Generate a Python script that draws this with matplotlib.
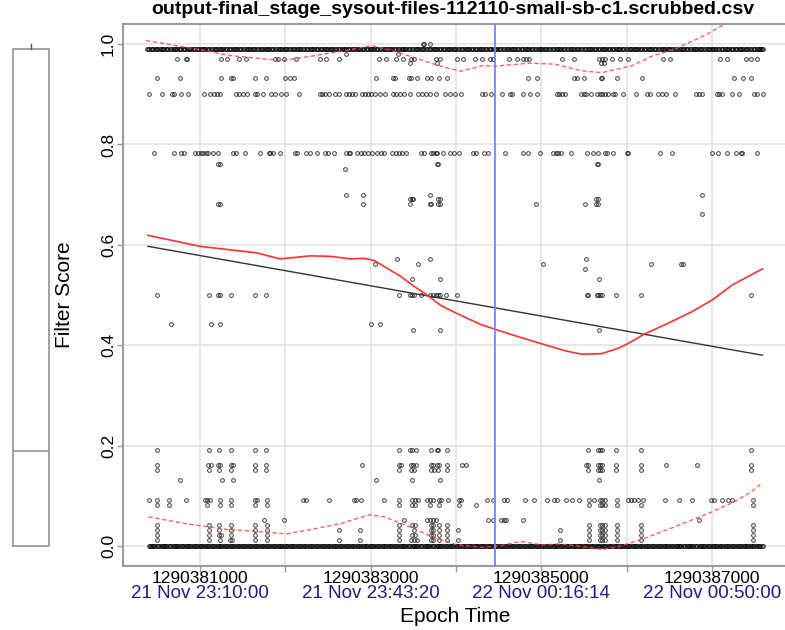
import matplotlib
matplotlib.use("Agg")
import matplotlib.pyplot as plt
import numpy as np

plt.rcParams['font.family'] = ['Liberation Sans', 'DejaVu Sans']

# ---------------- data ----------------
T0 = 1290380000  # epoch base; x values below are seconds after T0

title = "output-final_stage_sysout-files-112110-small-sb-c1.scrubbed.csv"
xtick_major = [1290381000, 1290383000, 1290385000, 1290387000]
xtick_labels = ["1290381000", "1290383000", "1290385000", "1290387000"]
date_labels = ["21 Nov 23:10:00", "21 Nov 23:43:20", "22 Nov 00:16:14", "22 Nov 00:50:00"]
xtick_minor = [1290382000, 1290384000, 1290386000]
ytick_vals = [0.0, 0.2, 0.4, 0.6, 0.8, 1.0]
ytick_labels = ["0.0", "0.2", "0.4", "0.6", "0.8", "1.0"]
marker_time = 1290384459

# score levels and the times (s after T0) of the points at each level
x_100 = [3610, 3620, 3700]
x_099a = [380, 410, 440, 470, 500, 530, 555, 585, 615, 650, 680, 705, 735, 765, 800, 830, 860, 885, 915, 945,
          980, 1010, 1040, 1065, 1095, 1125, 1160, 1190, 1220, 1245, 1275, 1305, 1340, 1370, 1400, 1425, 1455,
          1485, 1520, 1550, 1580, 1605, 1635, 1665, 1700, 1730, 1760, 1785, 1815, 1845, 1880, 1910, 1940, 1965,
          1995, 2025, 2060, 2090, 2120, 2145, 2175, 2205, 2240, 2270, 2300, 2325, 2355, 2385, 2420, 2450, 2480,
          2505, 2535, 2565, 2600, 2630, 2660, 2685, 2715, 2745, 2780, 2810, 2840, 2865, 2895, 2925, 2960, 2990,
          3020, 3045, 3075, 3105, 3140, 3170, 3200, 3225, 3255, 3285, 3320, 3350, 3380, 3405, 3435, 3465, 3500,
          3530, 3560, 3585, 3615, 3645, 3680, 3710, 3740, 3765, 3795, 3825, 3860, 3890, 3920, 3945, 3975, 4005,
          4040, 4070, 4100, 4125, 4155, 4185, 4220, 4250, 4280, 4305, 4335, 4365, 4400, 4430, 4460, 4485, 4515,
          4545, 4580, 4610, 4640, 4665, 4695, 4725, 4760, 4790, 4820, 4845, 4875, 4905, 4940, 4970, 5000, 5025,
          5055, 5085, 5120, 5150, 5180, 5205, 5235, 5265, 5300, 5330, 5360, 5385, 5415, 5445, 5480, 5510, 5540,
          5565, 5595, 5625, 5660, 5690, 5720, 5745, 5775, 5805, 5840, 5870, 5900, 5925, 5955, 5985, 6020, 6050,
          6080, 6105, 6135, 6165, 6200, 6230, 6260, 6285, 6315, 6345, 6380, 6410, 6440, 6465, 6495, 6525, 6560,
          6590, 6620, 6645, 6675, 6705, 6740, 6770, 6800, 6825, 6855, 6885, 6920, 6950, 6980, 7005, 7035, 7065,
          7100, 7130, 7160, 7185, 7215, 7245, 7280, 7310, 7340, 7365, 7395, 7425, 7460, 7490, 7520, 7545, 7575, 7600]
x_099b = [395, 425, 455, 485, 515, 545, 570, 600, 632, 665, 692, 720, 750, 782, 815, 845, 872, 900, 930, 962, 995,
          1025, 1052, 1080, 1110, 1142, 1175, 1205, 1232, 1260, 1290, 1322, 1355, 1385, 1412, 1440, 1470, 1502,
          1535, 1565, 1592, 1620, 1650, 1682, 1715, 1745, 1772, 1800, 1830, 1862, 1895, 1925, 1952, 1980, 2010,
          2042, 2075, 2105, 2132, 2160, 2190, 2222, 2255, 2285, 2312, 2340, 2370, 2402, 2435, 2465, 2492, 2520,
          2550, 2582, 2615, 2645, 2672, 2700, 2730, 2762, 2795, 2825, 2852, 2880, 2910, 2942, 2975, 3005, 3032,
          3060, 3090, 3122, 3155, 3185, 3212, 3240, 3270, 3302, 3335, 3365, 3392, 3420, 3450, 3482, 3515, 3545,
          3572, 3600, 3630, 3662, 3695, 3725, 3752, 3780, 3810, 3842, 3875, 3905, 3932, 3960, 3990, 4022, 4055,
          4085, 4112, 4140, 4170, 4202, 4235, 4265, 4292, 4320, 4350, 4382, 4415, 4445, 4472, 4500, 4530, 4562,
          4595, 4625, 4652, 4680, 4710, 4742, 4775, 4805, 4832, 4860, 4890, 4922, 4955, 4985, 5012, 5040, 5070,
          5102, 5135, 5165, 5192, 5220, 5250, 5282, 5315, 5345, 5372, 5400, 5430, 5462, 5495, 5525, 5552, 5580,
          5610, 5642, 5675, 5705, 5732, 5760, 5790, 5822, 5855, 5885, 5912, 5940, 5970, 6002, 6035, 6065, 6092,
          6120, 6150, 6182, 6215, 6245, 6272, 6300, 6330, 6362, 6395, 6425, 6452, 6480, 6510, 6542, 6575, 6605,
          6632, 6660, 6690, 6722, 6755, 6785, 6812, 6840, 6870, 6902, 6935, 6965, 6992, 7020, 7050, 7082, 7115,
          7145, 7172, 7200, 7230, 7262, 7295, 7325, 7352, 7380, 7410, 7442, 7475, 7505, 7532, 7560, 7588]
x_099 = x_099a + x_099b
x_098 = [2710, 3320]
x_097 = [735, 835, 845, 1250, 1320, 1460, 1540, 1885, 1920, 1985, 2125, 2410, 2475, 2625, 3100, 3175, 3300,
         3380, 3475, 3510, 3770, 3810, 4010, 4085, 4225, 4310, 4400, 4435, 4625, 4710, 4785, 4820, 4860, 5245,
         5385, 5670, 5710, 5745, 5825, 5920, 6010, 6420, 6510, 7095, 7175, 7395, 7460, 7520]
x_096 = [3460, 3780, 5700, 5730]
x_093 = [500, 770, 1250, 1360, 1385, 1650, 1775, 1995, 2050, 2100, 3060, 3260, 3285, 3445, 3475, 3545, 3660,
         3710, 3800, 3890, 4845, 4945, 5385, 5420, 5495, 5695, 5715, 5885, 6180, 7260, 7360, 7460]
x_090 = [400, 560, 670, 700, 785, 860, 1045, 1120, 1160, 1200, 1235, 1420, 1460, 1510, 1550, 1650, 1670, 1745,
         1835, 1885, 1950, 2010, 2160, 2410, 2435, 2460, 2510, 2585, 2635, 2710, 2750, 2785, 2820, 2900, 2935,
         2970, 3010, 3050, 3110, 3170, 3260, 3300, 3340, 3385, 3460, 3560, 3600, 3650, 3700, 3760, 3870, 3935,
         3985, 4060, 4300, 4335, 4410, 4535, 4635, 4660, 4785, 4870, 4950, 5185, 5210, 5245, 5275, 5460, 5500,
         5525, 5585, 5650, 5685, 5710, 5745, 5785, 5835, 5860, 5960, 6110, 6235, 6275, 6370, 6410, 6460, 6560,
         6810, 6845, 6875, 7060, 7085, 7120, 7235, 7310, 7485, 7520, 7600]
x_078 = [459, 694, 785, 816, 941, 981, 1012, 1039, 1071, 1098, 1157, 1216, 1393, 1420, 1530, 1706, 1804, 1824,
         1851, 1934, 2118, 2138, 2247, 2294, 2373, 2471, 2498, 2576, 2717, 2745, 2756, 2843, 2882, 2921, 2968,
         3019, 3078, 3117, 3157, 3255, 3294, 3333, 3372, 3411, 3588, 3627, 3706, 3725, 3765, 3776, 3843, 3933,
         3980, 4039, 4196, 4235, 4333, 4372, 4576, 4784, 4843, 4980, 5137, 5176, 5196, 5235, 5345, 5529, 5608,
         5659, 5745, 5764, 5843, 5999, 6019, 6384, 6529, 6992, 7071, 7176, 7274, 7333, 7353, 7529]
x_076 = [1216, 1236, 3776, 3792, 5647, 5666]
x_075 = [2705]
x_070 = [2706, 2914, 3695, 6883]
x_069 = [3459, 3479, 3491, 3785, 3812, 5636, 5667]
x_068 = [1216, 1236, 2914, 3459, 3695, 3706, 3784, 3812, 4941, 5510, 5636, 5667]
x_066 = [6883]
x_057 = [3314, 3695, 5522]
x_056 = [3048, 3550, 5020, 6283, 6640, 6655]
x_055 = [5510]
x_053 = [3479, 3812, 5675]
x_050 = [502, 1106, 1216, 1236, 1365, 1647, 1777, 3334, 3459, 3479, 3510, 3589, 3695, 3726, 3765, 3785, 3812,
         3882, 4012, 5538, 5549, 5647, 5667, 5687, 5714, 5871, 6165, 7459]
x_044 = [667, 1126, 1236, 3008, 3110]
x_043 = [3491, 3812, 5675]
x_019 = [502, 1110, 1228, 1361, 1647, 1773, 3333, 3458, 3482, 3529, 3706, 3776, 3792, 3894, 5541, 5659, 5686,
         5713, 5870, 6164, 7459]
x_016 = [502, 1098, 1126, 1216, 1236, 1361, 1385, 1647, 1773, 2902, 3333, 3360, 3470, 3498, 3529, 3706, 3725,
         3776, 3804, 3894, 4066, 4117, 5517, 5541, 5659, 5686, 5713, 5870, 6164, 6459, 6823, 7459]
x_015 = [502, 1110, 1228, 1361, 1647, 1773, 3333, 3470, 3510, 3706, 3745, 3784, 3894, 5541, 5659, 5686, 5713,
         5870, 6164, 7459]
x_013 = [765, 1255, 1385, 3058, 3490, 3815, 5674]
x_009 = [400, 500, 635, 835, 1060, 1085, 1120, 1235, 1360, 1650, 1675, 1785, 2210, 2245, 2510, 2810, 2825, 2885,
         3160, 3335, 3485, 3520, 3560, 3660, 3700, 3735, 3800, 3820, 3910, 4035, 4060, 4360, 4435, 4560, 4600,
         4810, 4910, 5060, 5150, 5185, 5285, 5360, 5435, 5560, 5610, 5685, 5710, 5745, 5885, 6010, 6045, 6085,
         6135, 6185, 6450, 6610, 6760, 6985, 7020, 7110, 7185, 7235, 7475]
x_008 = [500, 635, 1085, 1235, 1360, 1650, 1785, 3335, 3485, 3520, 3700, 3800, 4035, 4235, 5560, 5685, 5710,
         5745, 5885, 6170, 7475]
x_005 = [1750, 1980, 3395, 3660, 3695, 3735, 3760, 4370, 4435, 4525, 4560, 4585, 4785, 6840]
x_004 = [500, 1110, 1220, 1360, 1650, 1785, 3335, 3485, 3520, 3710, 3735, 3800, 3900, 5560, 5685, 5710, 5745,
         5885, 6170, 7475]
x_003 = [500, 1110, 1220, 1360, 1650, 1785, 2635, 2875, 3335, 3510, 3710, 3735, 3800, 3900, 4025, 5220, 5560,
         5685, 5710, 5745, 5885, 6170, 7475]
x_002 = [500, 1110, 1220, 1250, 1360, 1650, 1785, 3335, 3485, 3520, 3710, 3735, 3800, 3900, 5560, 5685, 5710,
         5745, 5885, 6170, 7475]
x_001 = [500, 1110, 1235, 1350, 1375, 1650, 1785, 2635, 2875, 3335, 3475, 3510, 3545, 3710, 3735, 3800, 3900,
         4025, 5220, 5560, 5685, 5710, 5745, 5885, 6170, 7475]
x_000a = [400, 425, 455, 480, 510, 540, 565, 595, 620, 650, 680, 705, 735, 760, 790, 820, 845, 875, 900, 930,
          960, 985, 1015, 1040, 1070, 1100, 1125, 1155, 1180, 1210, 1240, 1265, 1295, 1320, 1350, 1380, 1405,
          1435, 1460, 1490, 1520, 1545, 1575, 1600, 1630, 1660, 1685, 1715, 1740, 1770, 1800, 1825, 1855, 1880,
          1910, 1940, 1965, 1995, 2020, 2050, 2080, 2105, 2135, 2160, 2190, 2220, 2245, 2275, 2300, 2330, 2360,
          2385, 2415, 2440, 2470, 2500, 2525, 2555, 2580, 2610, 2640, 2665, 2695, 2720, 2750, 2780, 2805, 2835,
          2860, 2890, 2920, 2945, 2975, 3000, 3030, 3060, 3085, 3115, 3140, 3170, 3200, 3225, 3255, 3280, 3310,
          3340, 3365, 3395, 3420, 3450, 3480, 3505, 3535, 3560, 3590, 3620, 3645, 3675, 3700, 3730, 3760, 3785,
          3815, 3840, 3870, 3900, 3925, 3955, 3980, 4010, 4040, 4065, 4095, 4120, 4150, 4180, 4205, 4235, 4260,
          4290, 4320, 4345, 4375, 4400, 4430, 4460, 4485, 4515, 4540, 4570, 4600, 4625, 4655, 4680, 4710, 4740,
          4765, 4795, 4820, 4850, 4880, 4905, 4935, 4960, 4990, 5020, 5045, 5075, 5100, 5130, 5160, 5185, 5215,
          5240, 5270, 5300, 5325, 5355, 5380, 5410, 5440, 5465, 5495, 5520, 5550, 5580, 5605, 5635, 5660, 5690,
          5720, 5745, 5775, 5800, 5830, 5860, 5885, 5915, 5940, 5970, 6000, 6025, 6055, 6080, 6110, 6140, 6165,
          6195, 6220, 6250, 6280, 6305, 6335, 6360, 6390, 6420, 6445, 6475, 6500, 6530, 6560, 6585, 6615, 6640,
          6670, 6700, 6725, 6755, 6780, 6810, 6840, 6865, 6895, 6920, 6950, 6980, 7005, 7035, 7060, 7090, 7120,
          7145, 7175, 7200, 7230, 7260, 7285, 7315, 7340, 7370, 7400, 7425, 7455, 7480, 7510, 7540, 7565, 7595]
x_000b = [412, 440, 468, 495, 525, 552, 580, 608, 635, 665, 692, 720, 748, 775, 805, 832, 860, 888, 915, 945, 972,
          1000, 1028, 1055, 1085, 1112, 1140, 1168, 1195, 1225, 1252, 1280, 1308, 1335, 1365, 1392, 1420, 1448,
          1475, 1505, 1532, 1560, 1588, 1615, 1645, 1672, 1700, 1728, 1755, 1785, 1812, 1840, 1868, 1895, 1925,
          1952, 1980, 2008, 2035, 2065, 2092, 2120, 2148, 2175, 2205, 2232, 2260, 2288, 2315, 2345, 2372, 2400,
          2428, 2455, 2485, 2512, 2540, 2568, 2595, 2625, 2652, 2680, 2708, 2735, 2765, 2792, 2820, 2848, 2875,
          2905, 2932, 2960, 2988, 3015, 3045, 3072, 3100, 3128, 3155, 3185, 3212, 3240, 3268, 3295, 3325, 3352,
          3380, 3408, 3435, 3465, 3492, 3520, 3548, 3575, 3605, 3632, 3660, 3688, 3715, 3745, 3772, 3800, 3828,
          3855, 3885, 3912, 3940, 3968, 3995, 4025, 4052, 4080, 4108, 4135, 4165, 4192, 4220, 4248, 4275, 4305,
          4332, 4360, 4388, 4415, 4445, 4472, 4500, 4528, 4555, 4585, 4612, 4640, 4668, 4695, 4725, 4752, 4780,
          4808, 4835, 4865, 4892, 4920, 4948, 4975, 5005, 5032, 5060, 5088, 5115, 5145, 5172, 5200, 5228, 5255,
          5285, 5312, 5340, 5368, 5395, 5425, 5452, 5480, 5508, 5535, 5565, 5592, 5620, 5648, 5675, 5705, 5732,
          5760, 5788, 5815, 5845, 5872, 5900, 5928, 5955, 5985, 6012, 6040, 6068, 6095, 6125, 6152, 6180, 6208,
          6235, 6265, 6292, 6320, 6348, 6375, 6405, 6432, 6460, 6488, 6515, 6545, 6572, 6600, 6628, 6655, 6685,
          6712, 6740, 6768, 6795, 6825, 6852, 6880, 6908, 6935, 6965, 6992, 7020, 7048, 7075, 7105, 7132, 7160,
          7188, 7215, 7245, 7272, 7300, 7328, 7355, 7385, 7412, 7440, 7468, 7495, 7525, 7552, 7580]
x_000 = x_000a + x_000b

levels = [(1.00, x_100), (0.991, x_099), (0.98, x_098), (0.971, x_097), (0.962, x_096), (0.933, x_093),
          (0.901, x_090), (0.782, x_078), (0.762, x_076), (0.752, x_075), (0.70, x_070), (0.691, x_069),
          (0.682, x_068), (0.662, x_066), (0.572, x_057), (0.562, x_056), (0.552, x_055), (0.532, x_053),
          (0.50, x_050), (0.442, x_044), (0.431, x_043), (0.191, x_019), (0.161, x_016), (0.151, x_015),
          (0.131, x_013), (0.091, x_009), (0.081, x_008), (0.051, x_005), (0.042, x_004), (0.031, x_003),
          (0.021, x_002), (0.011, x_001), (0.0, x_000)]

# smoothed trend (solid red)
trend_x = [392, 1000, 1353, 1667, 1824, 1942, 2059, 2295, 2530, 2765, 2922, 3040, 3157, 3353, 3510, 3628, 3824,
           4000, 4294, 4471, 4726, 5000, 5275, 5471, 5706, 5902, 6000, 6216, 6451, 6765, 7000, 7236, 7589]
trend_y = [0.619, 0.597, 0.590, 0.584, 0.577, 0.572, 0.574, 0.578, 0.577, 0.572, 0.573, 0.569, 0.557, 0.537,
           0.517, 0.504, 0.479, 0.464, 0.441, 0.431, 0.417, 0.403, 0.389, 0.382, 0.383, 0.394, 0.402, 0.423,
           0.441, 0.467, 0.490, 0.520, 0.552]
# upper / lower bands (dashed red)
upper_x = [370, 960, 1360, 1960, 2310, 2710, 3010, 3260, 3560, 3860, 4060, 4310, 4460, 4860, 5160, 5460, 5710,
           6060, 6310, 6560, 6910, 7160, 7589]
upper_y = [1.007, 0.990, 0.977, 0.967, 0.976, 0.987, 0.997, 0.987, 0.970, 0.954, 0.946, 0.957, 0.956, 0.962,
           0.960, 0.947, 0.943, 0.957, 0.977, 0.990, 1.017, 1.041, 1.09]
lower_x = [400, 810, 1310, 1660, 2010, 2310, 2660, 2985, 3160, 3460, 3710, 4010, 4310, 4560, 4760, 5010, 5210,
           5460, 5710, 5910, 6160, 6560, 6960, 7260, 7460, 7588]
lower_y = [0.058, 0.045, 0.033, 0.029, 0.024, 0.033, 0.045, 0.062, 0.058, 0.038, 0.019, 0.002, -0.003, 0.002,
           0.009, 0.002, 0.004, -0.001, -0.007, -0.001, 0.012, 0.038, 0.065, 0.088, 0.108, 0.126]
# linear fit (black)
fit_x = [392, 7589]
fit_y = [0.597, 0.380]

# boxplot summary of the scores
box_stats = dict(whislo=0.0, q1=0.0, med=0.19, q3=0.99, whishi=1.0)

# ---------------- figure ----------------
W, H = 785, 630
fig = plt.figure(figsize=(W / 100, H / 100), dpi=100)
ax = fig.add_axes([123 / W, 64 / H, 664 / W, 542 / H])
ax.set_xlim(T0 + 100, T0 + 7876)
ax.set_ylim(-0.04, 1.04)

gray = '#9a9a9a'
for s in ['left', 'bottom', 'top']:
    ax.spines[s].set_color(gray)
    ax.spines[s].set_linewidth(1.5)
ax.spines['right'].set_visible(False)

ax.set_xticks(xtick_major, labels=xtick_labels)
ax.set_xticks(xtick_minor, minor=True)
ax.set_yticks(ytick_vals, labels=ytick_labels)
ax.tick_params(axis='both', which='both', color=gray, length=4, width=1, labelsize=12.5)
ax.tick_params(axis='x', which='both', pad=-0.5)
ax.tick_params(axis='y', labelrotation=90, pad=1)
for lab in ax.get_yticklabels():
    lab.set_va('center')
ax.grid(True, which='both', axis='x', color='#e3e3e3', lw=1.2, zorder=0)
ax.grid(True, which='major', axis='y', color='#e3e3e3', lw=1.2, zorder=0)
ax.set_axisbelow(True)

for yv, xs in levels:
    xs = T0 + np.asarray(xs)
    ax.plot(xs, np.full(len(xs), yv), linestyle='none', marker='o', markersize=2.7,
            markerfacecolor='none', markeredgecolor=(0, 0, 0, 0.7), markeredgewidth=0.75, zorder=2)

ax.plot(T0 + np.asarray(fit_x), fit_y, color='#333333', lw=1.0, zorder=3)
ax.plot(T0 + np.asarray(trend_x), trend_y, color='#ff3030', lw=1.2, zorder=4)
ax.plot(T0 + np.asarray(upper_x), upper_y, color='#ff4040', lw=1.0, ls=(0, (3, 2)), alpha=0.85, zorder=4)
ax.plot(T0 + np.asarray(lower_x), lower_y, color='#ff4040', lw=1.0, ls=(0, (3, 2)), alpha=0.85, zorder=4)
ax.axvline(marker_time, color='#8080ff', lw=1.3, zorder=5)

tr = ax.get_xaxis_transform()
for xv, lab in zip(xtick_major, date_labels):
    ax.text(xv, -0.050, lab, transform=tr, ha='center', va='center', fontsize=13.5, color='#1c1c8f')

ax.text(0.5, -0.094, "Epoch Time", transform=ax.transAxes, ha='center', va='center', fontsize=15)
ax.text(-0.088, 0.5, "Filter Score", transform=ax.transAxes, ha='center', va='center', fontsize=15,
        rotation=90)
fig.text(453 / W, 1 - 10 / H, title, ha='center', va='center', fontsize=14, fontweight='bold')

# ---------------- side boxplot ----------------
bax = fig.add_axes([12 / W, 64 / H, 38 / W, 542 / H])
bax.set_ylim(-0.04, 1.04)
bax.set_xlim(-0.52, 0.52)
st = dict(box_stats)
bax.bxp([st], positions=[0], widths=[1.0], showfliers=False, showcaps=False,
        boxprops=dict(color=gray, lw=1.3), medianprops=dict(color=gray, lw=1.3),
        whiskerprops=dict(color='#555555', lw=1.0))
for c in bax.get_children():
    try:
        c.set_clip_on(False)
    except Exception:
        pass
bax.axis('off')

fig.savefig('out.png', dpi=100)
